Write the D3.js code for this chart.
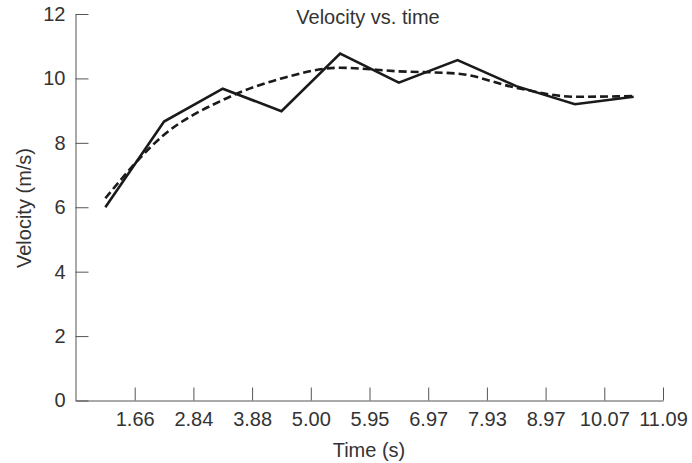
<!DOCTYPE html>
<html>
<head>
<meta charset="utf-8">
<script src="https://cdn.jsdelivr.net/npm/d3@7"></script>
<style>
  body { margin: 0; background: #fff; }
  text { font-family: "Liberation Sans", Arial, sans-serif; fill: #333; }
</style>
</head>
<body>
<div id="chart"></div>
<script>
// data
const tickLabels = ["1.66", "2.84", "3.88", "5.00", "5.95", "6.97", "7.93", "8.97", "10.07", "11.09"];
const measured = [6.0, 8.66, 9.68, 8.98, 10.77, 9.87, 10.57, 9.76, 9.20, 9.43];
const smoothed = [6.28, 8.25, 9.33, 10.0, 10.33, 10.22, 10.15, 9.71, 9.43, 9.45];
const yTicks = [0, 2, 4, 6, 8, 10, 12];

const W = 692, H = 463;

const svg = d3.select("#chart")
  .append("svg")
  .attr("width", W)
  .attr("height", H);

// scales: each sample sits in the middle of a slot, labels at slot ends
const x = d3.scaleLinear().domain([0, tickLabels.length]).range([76, 663]);
const y = d3.scaleLinear().domain([0, 12]).range([400.5, 14]);

// y axis
const yAxis = svg.append("g")
  .attr("transform", "translate(75.5,0)")
  .call(d3.axisLeft(y).tickValues(yTicks).tickSizeInner(-13).tickSizeOuter(0).tickPadding(10));
yAxis.select(".domain").attr("stroke", "#555");
yAxis.selectAll(".tick line").attr("stroke", "#555");
yAxis.selectAll(".tick text").attr("font-size", "20px").attr("fill", "#333");

// x axis
const xAxis = svg.append("g")
  .attr("transform", "translate(0,400.5)")
  .call(d3.axisBottom(x)
    .tickValues(d3.range(1, tickLabels.length + 1))
    .tickFormat(d => tickLabels[d - 1])
    .tickSizeInner(-13).tickSizeOuter(0).tickPadding(11));
xAxis.select(".domain").attr("stroke", "#555");
xAxis.selectAll(".tick line").attr("stroke", "#555");
xAxis.selectAll(".tick text").attr("font-size", "20px").attr("fill", "#333");

// lines
const line = d3.line()
  .x((d, i) => x(i + 0.5))
  .y(d => y(d));

svg.append("path")
  .datum(smoothed)
  .attr("fill", "none")
  .attr("stroke", "#1a1a1a")
  .attr("stroke-width", 2.6)
  .attr("stroke-dasharray", "8,4")
  .attr("d", line.curve(d3.curveMonotoneX));

svg.append("path")
  .datum(measured)
  .attr("fill", "none")
  .attr("stroke", "#1a1a1a")
  .attr("stroke-width", 2.6)
  .attr("d", line.curve(d3.curveLinear));

// titles
svg.append("text")
  .attr("x", 368)
  .attr("y", 24)
  .attr("text-anchor", "middle")
  .attr("font-size", "20px")
  .text("Velocity vs. time");

svg.append("text")
  .attr("x", 369)
  .attr("y", 457)
  .attr("text-anchor", "middle")
  .attr("font-size", "20px")
  .text("Time (s)");

svg.append("text")
  .attr("transform", "translate(31,208) rotate(-90)")
  .attr("text-anchor", "middle")
  .attr("font-size", "20px")
  .text("Velocity (m/s)");
</script>
</body>
</html>
